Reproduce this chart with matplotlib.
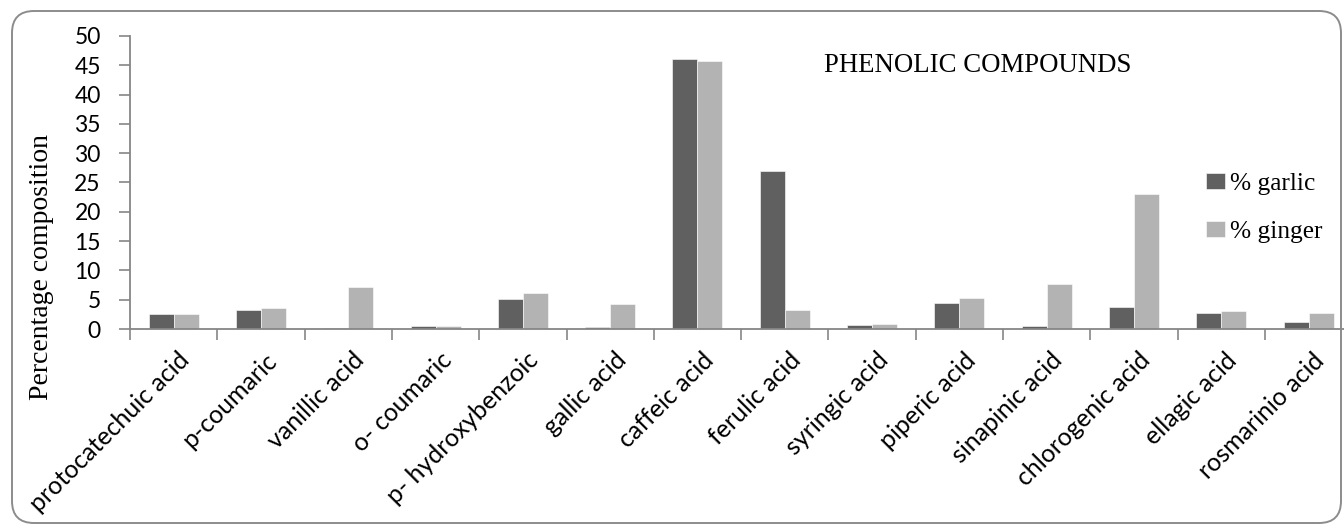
import matplotlib
matplotlib.use("Agg")
import matplotlib.pyplot as plt
import numpy as np
from matplotlib.patches import FancyBboxPatch
from matplotlib.transforms import IdentityTransform, ScaledTranslation

categories = [
    "protocatechuic acid", "p-coumaric", "vanillic acid", "o- coumaric",
    "p- hydroxybenzoic", "gallic acid", "caffeic acid", "ferulic acid",
    "syringic acid", "piperic acid", "sinapinic acid", "chlorogenic acid",
    "ellagic acid", "rosmarinio acid",
]
garlic = [2.6, 3.3, 0.1, 0.45, 5.1, 0.3, 46.0, 26.9, 0.7, 4.4, 0.55, 3.75, 2.8, 1.15]
ginger = [2.6, 3.65, 7.1, 0.55, 6.1, 4.2, 45.7, 3.25, 0.9, 5.35, 7.6, 23.1, 3.1, 2.7]
series_labels = ["% garlic", "% ginger"]
yticks = [0, 5, 10, 15, 20, 25, 30, 35, 40, 45, 50]

W, H = 1344, 525
fig = plt.figure(figsize=(W / 100, H / 100), dpi=100)

# outer rounded frame in pixel coordinates
frame = FancyBboxPatch((12, 2), 1329, 512, boxstyle="round,pad=0,rounding_size=22",
                       transform=IdentityTransform(), facecolor="none",
                       edgecolor="#8c8c8c", linewidth=1.4)
fig.patches.append(frame)

x0, y0, y50 = 130, 329, 36
px_per_cat = 87.3
ax = fig.add_axes([x0 / W, (H - y0) / H, 14 * px_per_cat / W, (y0 - y50) / H])

x = np.arange(len(categories))
bw = 0.286
dark, light = "#606060", "#b3b3b3"
ax.bar(x - bw / 2, garlic, bw, color=dark, edgecolor="white", linewidth=0.4, label=series_labels[0])
ax.bar(x + bw / 2, ginger, bw, color=light, edgecolor="white", linewidth=0.4, label=series_labels[1])

ax.set_xlim(-0.5, len(categories) - 0.5)
ax.set_ylim(0, 50)
ax.set_yticks(yticks)

axis_col = "#868686"
for s in ["top", "right"]:
    ax.spines[s].set_visible(False)
for s in ["left", "bottom"]:
    ax.spines[s].set_color(axis_col)
    ax.spines[s].set_linewidth(1.3)

sans = "Lato"
ax.set_yticklabels([str(v) for v in yticks], fontsize=16.5, family=sans)
ax.tick_params(axis="y", direction="out", length=8, width=1.2, color=axis_col, pad=13)

ax.set_xticks(x)
ax.set_xticklabels(categories, rotation=45, ha="right", va="top",
                   rotation_mode="anchor", fontsize=18, family=sans)
ax.tick_params(axis="x", which="major", length=0, pad=14)
shift = ScaledTranslation(4 / 100, 0, fig.dpi_scale_trans)
for lab in ax.get_xticklabels():
    lab.set_transform(lab.get_transform() + shift)
ax.set_xticks(np.arange(len(categories) + 1) - 0.5, minor=True)
ax.tick_params(axis="x", which="minor", direction="out", length=8, width=1.2, color=axis_col)

ax.set_ylabel("Percentage composition", family="Liberation Serif", fontsize=20)
ax.yaxis.set_label_coords((54 - x0) / (14 * px_per_cat), (y0 - 267) / (y0 - y50))

fig.text(978 / W, 1 - 65 / H, "PHENOLIC COMPOUNDS", family="Liberation Serif",
         fontsize=19.3, ha="center", va="center")

fig.legend(loc="center left", bbox_to_anchor=(1193 / W, 1 - 208 / H), frameon=False,
           prop={"family": "Liberation Serif", "size": 18.3}, handlelength=0.75,
           handleheight=0.6, handletextpad=0.2, labelspacing=1.05, borderpad=0)

fig.savefig("out.png", dpi=100)
